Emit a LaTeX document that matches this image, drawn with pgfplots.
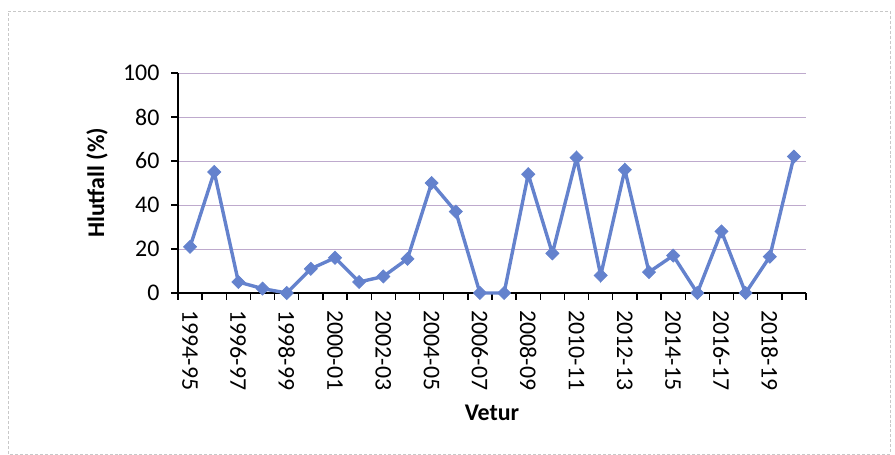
\documentclass[border=0pt]{standalone}
\usepackage{pgfplots}
\pgfplotsset{compat=1.18}
\usepackage{fontspec}
\setmainfont{Carlito}
\definecolor{lineblue}{RGB}{100,130,205}
\definecolor{gridc}{RGB}{190,170,205}
\definecolor{borderc}{RGB}{200,200,200}
\begin{document}
\begin{tikzpicture}[x=1bp,y=1bp]
\useasboundingbox (0,0) rectangle (895,455);
\draw[borderc, densely dashed, line width=0.6bp] (8,1) rectangle (890,444);
\begin{axis}[
  at={(178bp,162bp)}, anchor=south west,
  scale only axis, width=628bp, height=220bp,
  xmin=-0.5, xmax=25.5, ymin=0, ymax=100,
  axis x line=bottom, axis y line=left,
  axis line style={-, black, line width=1.6bp},
  tick align=outside,
  major tick length=7bp,
  tick style={black, line width=1.4bp},
  xtick={-0.5,0.5,...,25.5},
  xticklabels={},
  extra x ticks={0,2,...,24},
  extra x tick labels={1994-95,1996-97,1998-99,2000-01,2002-03,2004-05,2006-07,2008-09,2010-11,2012-13,2014-15,2016-17,2018-19},
  extra x tick style={tick style={draw=none}},
  xticklabel style={rotate=-90, anchor=west, inner xsep=10bp, font=\fontsize{24}{28}\selectfont},
  ytick={0,20,...,100},
  yticklabel style={xshift=-8bp, font=\fontsize{24}{28}\selectfont},
  ymajorgrids,
  major grid style={gridc, line width=0.7bp},
  /pgf/number format/assume math mode=true,
  ylabel={\textbf{Hlutfall (\%)}},
  xlabel={\textbf{Vetur}},
  ylabel style={at={(axis description cs:-0.129,0.5)}, anchor=center, font=\fontsize{24}{28}\selectfont},
  xlabel style={at={(axis description cs:0.5,-0.545)}, anchor=center, font=\fontsize{24}{28}\selectfont},
  clip=false,
]
\addplot[lineblue, line width=3.4bp, mark=square*, mark size=4.6bp, mark options={fill=lineblue, draw=lineblue, line width=0.8bp, rotate=45}] coordinates {
(0,21) (1,55) (2,5) (3,2) (4,0) (5,11) (6,16) (7,5) (8,7.5) (9,15.5)
(10,50) (11,37) (12,0) (13,0) (14,54) (15,18) (16,61.5) (17,8) (18,56) (19,9.5)
(20,17) (21,0) (22,28) (23,0) (24,16.5) (25,62)
};
\end{axis}
\end{tikzpicture}
\end{document}
